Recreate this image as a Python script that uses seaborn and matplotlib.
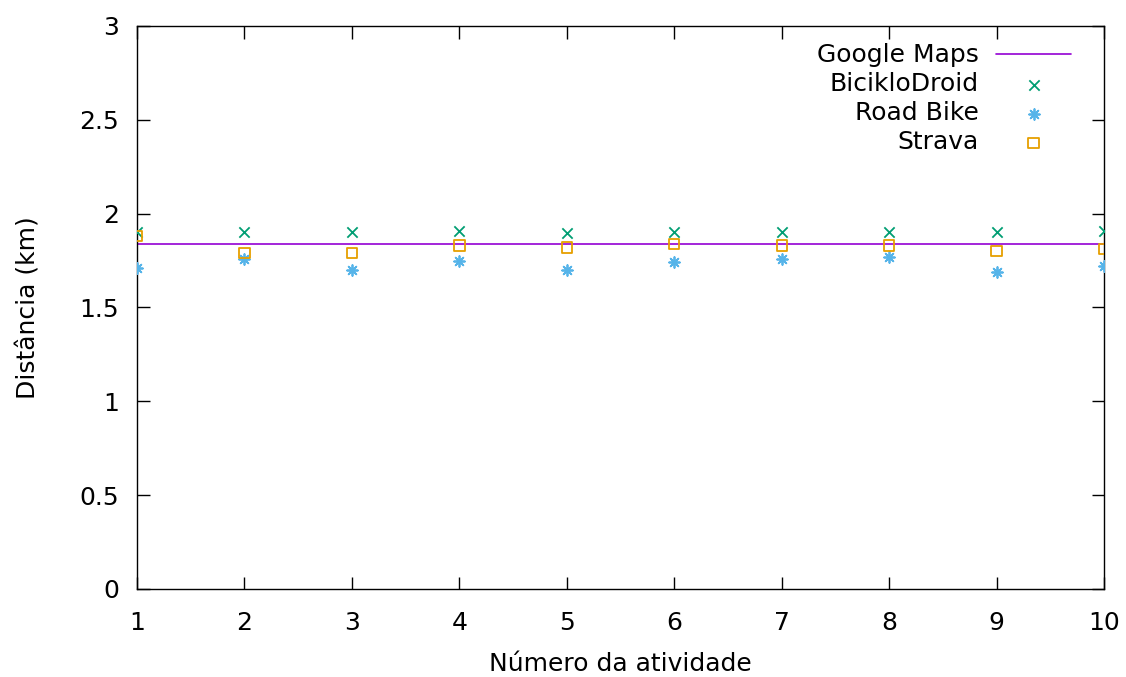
import numpy as np
import pandas as pd
import matplotlib
matplotlib.use("Agg")
import matplotlib.pyplot as plt
import seaborn as sns

# Data
atividades = [1, 2, 3, 4, 5, 6, 7, 8, 9, 10]
google_maps = [1.836] * 10
biciklodroid = [1.90, 1.90, 1.90, 1.91, 1.895, 1.90, 1.90, 1.90, 1.90, 1.91]
road_bike = [1.71, 1.76, 1.70, 1.75, 1.70, 1.74, 1.76, 1.77, 1.69, 1.72]
strava = [1.88, 1.79, 1.79, 1.83, 1.82, 1.84, 1.83, 1.83, 1.80, 1.81]

x_ticks = [1, 2, 3, 4, 5, 6, 7, 8, 9, 10]
y_ticks = [0, 0.5, 1, 1.5, 2, 2.5, 3]
y_tick_labels = ["0", "0.5", "1", "1.5", "2", "2.5", "3"]

df = pd.DataFrame({
    "Atividade": atividades,
    "Google Maps": google_maps,
    "BicikloDroid": biciklodroid,
    "Road Bike": road_bike,
    "Strava": strava,
})

sns.set_style("ticks")
plt.rcParams["font.family"] = ["DejaVu Sans"]
plt.rcParams["text.color"] = "black"
plt.rcParams["axes.labelcolor"] = "black"
plt.rcParams["xtick.labelcolor"] = "black"
plt.rcParams["ytick.labelcolor"] = "black"

FS = 18

fig = plt.figure(figsize=(11.26, 6.77), dpi=100)
ax = fig.add_axes([0.1217, 0.13, 0.8588, 0.8316])

sns.lineplot(data=df, x="Atividade", y="Google Maps", ax=ax, color="#9400d3",
             linewidth=1.2, label="Google Maps")
sns.scatterplot(data=df, x="Atividade", y="BicikloDroid", ax=ax, marker="x",
                color="#009e73", s=55, linewidth=1.3, label="BicikloDroid", zorder=3)
sns.scatterplot(data=df, x="Atividade", y="Road Bike", ax=ax, marker=(8, 2, 0),
                color="#56b4e9", s=60, linewidth=1.3, label="Road Bike", zorder=3)
sns.scatterplot(data=df, x="Atividade", y="Strava", ax=ax, marker="s",
                facecolors="none", edgecolor="#e69f00", s=55, linewidth=1.3,
                label="Strava", zorder=3)

ax.set_xlim(1, 10)
ax.set_ylim(0, 3)
ax.set_xticks(x_ticks)
ax.set_yticks(y_ticks)
ax.set_yticklabels(y_tick_labels)
ax.set_xlabel("Número da atividade", fontsize=FS, labelpad=12)
ax.set_ylabel("Distância (km)", fontsize=FS, labelpad=28)

ax.tick_params(axis="both", which="major", direction="in", length=9, width=1,
               labelsize=FS, top=True, right=True, color="black")
ax.tick_params(axis="x", pad=16)
ax.tick_params(axis="y", pad=13)
for sp in ax.spines.values():
    sp.set_visible(True)
    sp.set_linewidth(1.0)
    sp.set_color("black")
ax.grid(False)

ax.legend(loc="upper right", bbox_to_anchor=(0.984, 1.0), frameon=False,
          fontsize=FS, markerfirst=False, handlelength=3.0, handletextpad=0.7,
          labelspacing=0.2, borderaxespad=0.7, borderpad=0.0)

fig.savefig("out.png", dpi=100)
